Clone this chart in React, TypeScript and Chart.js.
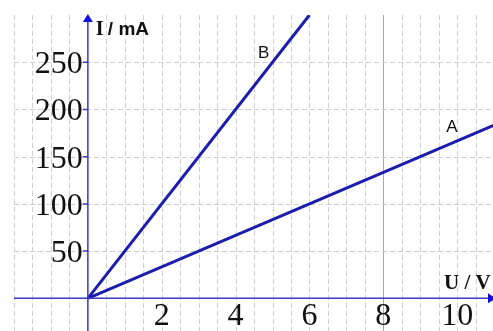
import React, { useEffect, useRef } from "react";
import { Chart, registerables } from "chart.js";

Chart.register(...registerables);

// Current–voltage characteristics of two resistors
const uA: number[] = [0, 12];
const iA: number[] = [0, 200];
const uB: number[] = [0, 6];
const iB: number[] = [0, 300];

const xTickValues: number[] = [2, 4, 6, 8, 10];
const yTickValues: number[] = [50, 100, 150, 200, 250];

const lineNames: string[] = ["A", "B"];
// where each line's letter sits (U, I)
const labelU: number[] = [9.86, 4.76];
const labelI: number[] = [181, 259];

const LINE_BLUE = "#1c1cae";
const AXIS_BLUE = "#3a3ac4";
const TICK_FONT = "32px 'Liberation Serif'";

const gridPlugin = {
  id: "paperGrid",
  beforeDatasetsDraw(chart: any) {
    const { ctx, chartArea: a, scales } = chart;
    const xs = scales.x;
    const ys = scales.y;
    ctx.save();
    ctx.lineWidth = 1;
    // vertical lines every half volt
    for (let u = Math.ceil(xs.min * 2) / 2; u <= xs.max; u += 0.5) {
      if (Math.abs(u) < 1e-6) continue;
      const px = Math.round(xs.getPixelForValue(u)) + 0.5;
      if (Math.abs(u - 8) < 1e-6) {
        ctx.setLineDash([]);
        ctx.strokeStyle = "#a8a8a8";
      } else {
        ctx.setLineDash([5, 3]);
        ctx.strokeStyle = "#d0d0d0";
      }
      ctx.beginPath();
      ctx.moveTo(px, a.top);
      ctx.lineTo(px, a.bottom);
      ctx.stroke();
    }
    // horizontal lines at each labelled current
    ctx.setLineDash([5, 3]);
    ctx.strokeStyle = "#d0d0d0";
    for (const v of yTickValues) {
      const py = Math.round(ys.getPixelForValue(v)) + 0.5;
      ctx.beginPath();
      ctx.moveTo(a.left, py);
      ctx.lineTo(a.right, py);
      ctx.stroke();
    }
    ctx.restore();
  },
  afterDatasetsDraw(chart: any) {
    const { ctx, chartArea: a, scales } = chart;
    const xs = scales.x;
    const ys = scales.y;
    const x0 = xs.getPixelForValue(0);
    const y0 = ys.getPixelForValue(0);
    ctx.save();
    ctx.setLineDash([]);
    ctx.strokeStyle = AXIS_BLUE;
    ctx.fillStyle = "#1010e0";
    ctx.lineWidth = 1.5;
    // axes
    ctx.beginPath();
    ctx.moveTo(a.left, y0);
    ctx.lineTo(a.right, y0);
    ctx.moveTo(x0, a.bottom);
    ctx.lineTo(x0, a.top + 4);
    // tick marks on the current axis
    for (const v of yTickValues) {
      const py = ys.getPixelForValue(v);
      ctx.moveTo(x0 - 5, py);
      ctx.lineTo(x0, py);
    }
    ctx.stroke();
    // arrow heads
    ctx.beginPath();
    ctx.moveTo(x0, a.top - 1);
    ctx.lineTo(x0 - 5, a.top + 7);
    ctx.lineTo(x0 + 5, a.top + 7);
    ctx.closePath();
    ctx.fill();
    ctx.beginPath();
    ctx.moveTo(a.right + 3, y0);
    ctx.lineTo(a.right - 5, y0 - 5);
    ctx.lineTo(a.right - 5, y0 + 5);
    ctx.closePath();
    ctx.fill();

    // tick labels
    ctx.fillStyle = "#111";
    ctx.font = TICK_FONT;
    ctx.textAlign = "right";
    ctx.textBaseline = "alphabetic";
    for (const v of yTickValues) {
      ctx.fillText(String(v), x0 - 5, ys.getPixelForValue(v) + 11);
    }
    ctx.textAlign = "center";
    for (const v of xTickValues) {
      ctx.fillText(String(v), xs.getPixelForValue(v), y0 + 27);
    }

    // axis titles
    ctx.textAlign = "left";
    ctx.font = "bold 20px 'Liberation Serif'";
    ctx.fillText("I", x0 + 8, a.top + 20);
    ctx.font = "bold 19px 'Liberation Sans'";
    ctx.fillText("/ mA", x0 + 20, a.top + 20);
    ctx.font = "bold 21px 'Liberation Serif'";
    ctx.fillText("U / V", 444, y0 - 9);

    // line names
    ctx.font = "17px 'Liberation Sans'";
    ctx.textAlign = "center";
    ctx.textBaseline = "middle";
    lineNames.forEach((n, i) => {
      ctx.fillText(n, xs.getPixelForValue(labelU[i]), ys.getPixelForValue(labelI[i]));
    });
    ctx.restore();
  },
};

export default function App() {
  const ref = useRef<HTMLCanvasElement | null>(null);

  useEffect(() => {
    if (!ref.current) return;
    const chart = new Chart(ref.current, {
      type: "line",
      data: {
        datasets: [
          {
            label: "A",
            data: uA.map((u, i) => ({ x: u, y: iA[i] })),
            borderColor: LINE_BLUE,
            borderWidth: 3,
            pointRadius: 0,
            fill: false,
          },
          {
            label: "B",
            data: uB.map((u, i) => ({ x: u, y: iB[i] })),
            borderColor: LINE_BLUE,
            borderWidth: 3,
            pointRadius: 0,
            fill: false,
          },
        ],
      },
      options: {
        animation: false,
        responsive: false,
        layout: { padding: { left: 14, top: 15, right: 0, bottom: 0 } },
        plugins: { legend: { display: false }, tooltip: { enabled: false } },
        scales: {
          x: { type: "linear", min: -2, max: 10.97, display: false },
          y: { type: "linear", min: -34.6, max: 300, display: false },
        },
      },
      plugins: [gridPlugin],
    });
    return () => chart.destroy();
  }, []);

  return (
    <div style={{ position: "fixed", left: 0, top: 0, width: 493, height: 331, background: "#fff" }}>
      <canvas ref={ref} width={493} height={331} />
    </div>
  );
}
